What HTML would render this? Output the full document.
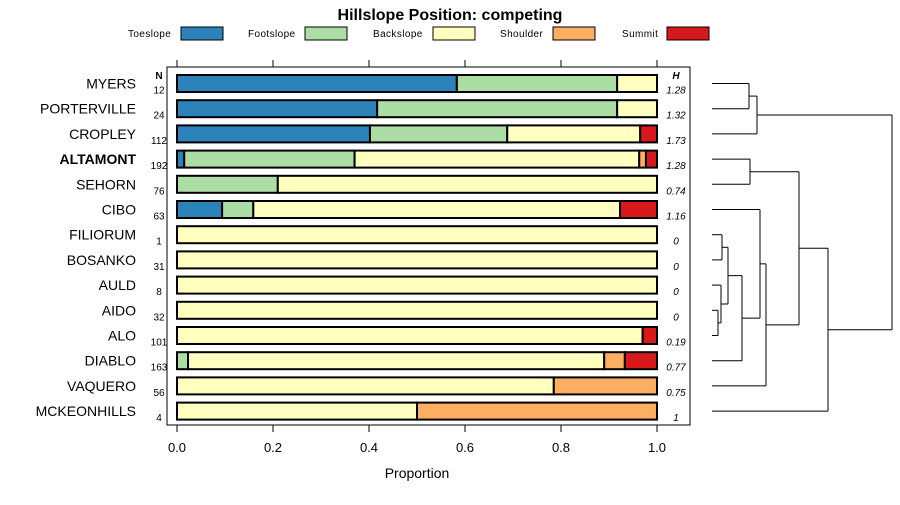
<!DOCTYPE html>
<html><head><meta charset="utf-8"><style>
body{margin:0;background:#fff;font-family:"Liberation Sans",sans-serif}
</style></head><body>
<svg id="c" width="900" height="500" xmlns="http://www.w3.org/2000/svg" font-family="Liberation Sans, sans-serif"></svg>
<script>
const sites=["MYERS","PORTERVILLE","CROPLEY","ALTAMONT","SEHORN","CIBO","FILIORUM","BOSANKO","AULD","AIDO","ALO","DIABLO","VAQUERO","MCKEONHILLS"];
const nVals=[12,24,112,192,76,63,1,31,8,32,101,163,56,4];
const hVals=["1.28","1.32","1.73","1.28","0.74","1.16","0","0","0","0","0.19","0.77","0.75","1"];
const toeslope=[0.583,0.417,0.402,0.015,0,0.094,0,0,0,0,0,0,0,0];
const footslope=[0.334,0.5,0.286,0.355,0.21,0.065,0,0,0,0,0,0.023,0,0];
const backslope=[0.083,0.083,0.277,0.593,0.79,0.764,1,1,1,1,0.97,0.867,0.785,0.5];
const shoulder=[0,0,0,0.014,0,0,0,0,0,0,0,0.043,0.215,0.5];
const summit=[0,0,0.035,0.023,0,0.077,0,0,0,0,0.03,0.067,0,0];
const classes=["Toeslope","Footslope","Backslope","Shoulder","Summit"];
const colors=["#2b83ba","#abdda4","#ffffbf","#fdae61","#d7191c"];
const ticks=[0,0.2,0.4,0.6,0.8,1.0];
const svg=document.getElementById('c');const NS="http://www.w3.org/2000/svg";
function mk(t,a,txt){const e=document.createElementNS(NS,t);for(const k in a)e.setAttribute(k,a[k]);if(txt!==undefined)e.textContent=txt;svg.appendChild(e);return e;}
const X=v=>177+v*480;
const Y=i=>83.5+i*25.2;
let e=mk('text',{x:450,y:20,'text-anchor':'middle','font-size':16,'font-weight':'bold'},'Hillslope Position: competing');


const legX=[[128,181],[248,305],[373,433],[500,553],[622,667]];
classes.forEach((c,k)=>{
 let t=mk('text',{x:legX[k][0],y:37,'font-size':10,'letter-spacing':0.4},c);
 
 
 let r=mk('rect',{x:legX[k][1],y:27,width:42,height:13,fill:colors[k],stroke:'#000','stroke-width':1});
 
 
});
let box=mk('rect',{x:167,y:67,width:523,height:358,fill:'none',stroke:'#000','stroke-width':1});


ticks.forEach(v=>{
 mk('line',{x1:X(v),x2:X(v),y1:60,y2:67,stroke:'#000'});
 mk('line',{x1:X(v),x2:X(v),y1:425,y2:432,stroke:'#000'});
 let t=mk('text',{x:X(v),y:452,'text-anchor':'middle','font-size':13},v.toFixed(1));
 
 
});
let xt=mk('text',{x:417,y:478,'text-anchor':'middle','font-size':14},'Proportion');


mk('text',{x:159,y:79,'text-anchor':'middle','font-size':10,'font-weight':'bold'},'N');
mk('text',{x:676,y:79,'text-anchor':'middle','font-size':10,'font-weight':'bold','font-style':'italic'},'H');
const series=[toeslope,footslope,backslope,shoulder,summit];
sites.forEach((s,i)=>{
 const y=Y(i);
 let l=mk('text',{x:136,y:y+5,'text-anchor':'end','font-size':14,'font-weight':s==='ALTAMONT'?'bold':'normal'},s);
 
 
 let n=mk('text',{x:159,y:y+10,'text-anchor':'middle','font-size':10},nVals[i]);
 
 
 let h=mk('text',{x:676,y:y+10,'text-anchor':'middle','font-size':10,'font-style':'italic'},hVals[i]);
 
 
 let cum=0;
 series.forEach((arr,k)=>{
  const v=arr[i]; if(v<=0)return;
  let r=mk('rect',{x:X(cum),y:y-8.5,width:v*480,height:17,fill:colors[k],stroke:'#000','stroke-width':2});
  
  
  cum+=v;
 });
});
const g='#000';
function seg(x1,y1,x2,y2){let l=mk('line',{x1,y1,x2,y2,stroke:g,'stroke-width':1});}
function merge(ya,xa,yb,xb,xm){seg(xa,ya,xm,ya);seg(xb,yb,xm,yb);seg(xm,ya,xm,yb);return (ya+yb)/2;}
const L=712;
let m1=merge(Y(0),L,Y(1),L,749);
let m2=merge(m1,749,Y(2),L,757);
let m3=merge(Y(3),L,Y(4),L,750);
let m4=merge(Y(6),L,Y(7),L,722);
let m5=merge(Y(9),L,Y(10),L,718);
let m6=merge(Y(8),L,m5,718,721);
let m7=merge(m4,722,m6,721,728);
let m8=merge(m7,728,Y(11),L,742);
let m9=merge(Y(5),L,m8,742,760);
let m10=merge(m9,760,Y(12),L,766);
let m11=merge(m3,750,m10,766,799);
let m12=merge(m11,799,Y(13),L,828);
merge(m2,757,m12,828,892);
</script>
</body></html>
